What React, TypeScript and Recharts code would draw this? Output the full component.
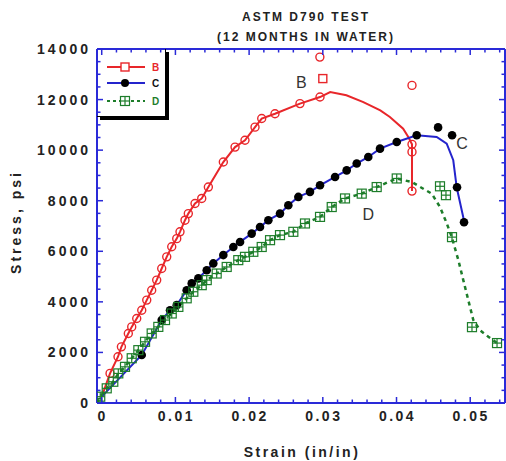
import React from 'react';
import { ComposedChart, Line, Scatter, XAxis, YAxis } from 'recharts';

// ---------- data ----------
const seriesNames = ['B', 'C', 'D'];

// Series B (red) – markers
const bMarkX = [0.00113, 0.00221, 0.00267, 0.00361, 0.00407, 0.00475, 0.00543, 0.00611, 0.00678, 0.00746, 0.00814, 0.00882, 0.0095, 0.01018, 0.01062, 0.0113, 0.01175, 0.01266, 0.01357, 0.01447, 0.0165, 0.01809, 0.01944, 0.0208, 0.02171, 0.02351, 0.0269, 0.02962, 0.0421, 0.0421, 0.0421];
const bMarkY = [1170, 1830, 2220, 2750, 3010, 3340, 3670, 4070, 4460, 4860, 5320, 5780, 6180, 6500, 6770, 7230, 7490, 7890, 8090, 8540, 9530, 10120, 10390, 10910, 11250, 11440, 11840, 12100, 10230, 9930, 8380];
// Series B – curve
const bLineX = [0, 0.00113, 0.00221, 0.00267, 0.00361, 0.00407, 0.00475, 0.00543, 0.00611, 0.00678, 0.00746, 0.00814, 0.00882, 0.0095, 0.01018, 0.01062, 0.0113, 0.01175, 0.01266, 0.01357, 0.01447, 0.0165, 0.01809, 0.01944, 0.0208, 0.02171, 0.02351, 0.0269, 0.02962, 0.031, 0.0332, 0.0355, 0.0378, 0.0391, 0.0409, 0.0416, 0.0421, 0.0421, 0.0421];
const bLineY = [250, 1170, 1830, 2220, 2750, 3010, 3340, 3670, 4070, 4460, 4860, 5320, 5780, 6180, 6500, 6770, 7230, 7490, 7890, 8090, 8540, 9530, 10120, 10390, 10910, 11250, 11440, 11840, 12100, 12300, 12170, 11900, 11570, 11310, 10850, 10520, 10230, 9930, 8380];
// Series B – isolated points
const bRoundX = [0.0296, 0.0421];
const bRoundY = [13680, 12560];
const bSquareX = [0.0300];
const bSquareY = [12830];

// Series C (blue line, black markers)
const cMarkX = [0.00543, 0.00814, 0.00927, 0.01018, 0.01153, 0.01221, 0.01311, 0.01425, 0.01514, 0.0165, 0.01786, 0.01877, 0.02035, 0.02148, 0.02261, 0.02419, 0.02532, 0.02668, 0.02826, 0.02962, 0.03166, 0.03324, 0.0346, 0.03617, 0.03776, 0.04003, 0.04274, 0.04564, 0.04754, 0.04821, 0.04916];
const cMarkY = [1900, 3280, 3670, 3870, 4460, 4730, 4930, 5250, 5520, 5850, 6170, 6370, 6700, 6960, 7230, 7490, 7820, 8150, 8350, 8610, 8940, 9200, 9470, 9730, 10060, 10320, 10590, 10900, 10590, 8530, 7150];
const cLineX = [0, 0.00543, 0.00814, 0.00927, 0.01018, 0.01153, 0.01221, 0.01311, 0.01425, 0.01514, 0.0165, 0.01786, 0.01877, 0.02035, 0.02148, 0.02261, 0.02419, 0.02532, 0.02668, 0.02826, 0.02962, 0.03166, 0.03324, 0.0346, 0.03617, 0.03776, 0.04003, 0.04274, 0.04545, 0.04681, 0.0477, 0.04817, 0.0492];
const cLineY = [250, 1900, 3280, 3670, 3870, 4460, 4730, 4930, 5250, 5520, 5850, 6170, 6370, 6700, 6960, 7230, 7490, 7820, 8150, 8350, 8610, 8940, 9200, 9470, 9730, 10060, 10320, 10590, 10520, 10260, 9600, 8520, 7160];

// Series D (green dashed, boxed-cross markers)
const dMarkX = [-0.0006, -0.0002, 0.00068, 0.00157, 0.00225, 0.00316, 0.00407, 0.00497, 0.00588, 0.00678, 0.00768, 0.00859, 0.0095, 0.0104, 0.01153, 0.01243, 0.01357, 0.01425, 0.0156, 0.01696, 0.01853, 0.01944, 0.02057, 0.02171, 0.02284, 0.02419, 0.026, 0.02758, 0.02962, 0.03121, 0.03301, 0.03528, 0.03731, 0.04003, 0.0459, 0.04671, 0.04753, 0.05024, 0.05364];
const dMarkY = [0, 250, 580, 840, 1170, 1430, 1770, 2090, 2420, 2750, 3010, 3280, 3540, 3800, 4140, 4400, 4660, 4860, 5120, 5380, 5650, 5780, 5980, 6170, 6440, 6640, 6770, 7100, 7360, 7750, 8090, 8280, 8540, 8880, 8570, 8220, 6560, 3000, 2370];
const dLineX = [-0.0006, -0.0002, 0.00068, 0.00157, 0.00225, 0.00316, 0.00407, 0.00497, 0.00588, 0.00678, 0.00768, 0.00859, 0.0095, 0.0104, 0.01153, 0.01243, 0.01357, 0.01425, 0.0156, 0.01696, 0.01853, 0.01944, 0.02057, 0.02171, 0.02284, 0.02419, 0.026, 0.02758, 0.02962, 0.03121, 0.03301, 0.03528, 0.03731, 0.04003, 0.04206, 0.04478, 0.0459, 0.04681, 0.04749, 0.04839, 0.04906, 0.04974, 0.05042, 0.05133, 0.05246, 0.0536];
const dLineY = [0, 250, 580, 840, 1170, 1430, 1770, 2090, 2420, 2750, 3010, 3280, 3540, 3800, 4140, 4400, 4660, 4860, 5120, 5380, 5650, 5780, 5980, 6170, 6440, 6640, 6770, 7100, 7360, 7750, 8090, 8280, 8540, 8880, 8740, 8280, 7750, 7110, 6570, 5650, 4860, 4070, 3280, 2880, 2620, 2380];

// curve annotations
const noteText = ['B', 'C', 'D'];
const noteX = [0.0271, 0.0489, 0.03617];
const noteY = [12690, 10270, 7490];

// axes
const xMajorTicks = [0, 0.01, 0.02, 0.03, 0.04, 0.05];
const xTickLabels = ['0', '0.01', '0.02', '0.03', '0.04', '0.05'];
const xAllTicks = [0, 0.002, 0.004, 0.006, 0.008, 0.01, 0.012, 0.014, 0.016, 0.018, 0.02, 0.022, 0.024, 0.026, 0.028, 0.03, 0.032, 0.034, 0.036, 0.038, 0.04, 0.042, 0.044, 0.046, 0.048, 0.05, 0.052, 0.054];
const yMajorTicks = [0, 2000, 4000, 6000, 8000, 10000, 12000, 14000];
const yTickLabels = ['0', '2000', '4000', '6000', '8000', '10000', '12000', '14000'];
const yAllTicks = [0, 500, 1000, 1500, 2000, 2500, 3000, 3500, 4000, 4500, 5000, 5500, 6000, 6500, 7000, 7500, 8000, 8500, 9000, 9500, 10000, 10500, 11000, 11500, 12000, 12500, 13000, 13500, 14000];

const titleLines = ['ASTM D790 TEST', '(12 MONTHS IN WATER)'];
const xTitle = 'Strain (in/in)';
const yTitle = 'Stress, psi';

// ---------- helpers ----------
const zip = (xs: number[], ys: number[]) => xs.map((x, i) => ({ x, y: ys[i] }));
const notes = noteX.map((x, i) => ({ x, y: noteY[i], label: noteText[i] }));

const AXIS = '#2a2ad8';
const RED = '#e8262a';
const BLUE = '#2424cc';
const GREEN = '#1d7d2a';
const FONT = '"Liberation Sans", Arial, sans-serif';
const X_DOMAIN = [-0.00064, 0.05472];
const Y_DOMAIN = [0, 14000];

const findIdx = (arr: number[], v: number) => arr.findIndex((t) => Math.abs(t - v) < 1e-9);

const BottomTick = (p: any) => {
  const i = findIdx(xMajorTicks, p.payload.value);
  const major = i >= 0;
  return (
    <g>
      <line x1={p.x} x2={p.x} y1={p.y} y2={p.y - (major ? 6 : 3.5)} stroke={AXIS} strokeWidth={1.5} />
      {major && (
        <text x={p.x + 1} y={p.y + 18} textAnchor="middle" fontFamily={FONT} fontWeight="bold" fontSize={14} letterSpacing={2.5} fill="#222">
          {xTickLabels[i]}
        </text>
      )}
    </g>
  );
};
const TopTick = (p: any) => {
  const major = findIdx(xMajorTicks, p.payload.value) >= 0;
  return <line x1={p.x} x2={p.x} y1={p.y} y2={p.y + (major ? 6 : 3.5)} stroke={AXIS} strokeWidth={1.5} />;
};
const LeftTick = (p: any) => {
  const i = findIdx(yMajorTicks, p.payload.value);
  const major = i >= 0;
  return (
    <g>
      <line x1={p.x} x2={p.x + (major ? 6 : 3.5)} y1={p.y} y2={p.y} stroke={AXIS} strokeWidth={1.5} />
      {major && (
        <text x={p.x - 6} y={p.y + 5} textAnchor="end" fontFamily={FONT} fontWeight="bold" fontSize={14} letterSpacing={3} fill="#222">
          {yTickLabels[i]}
        </text>
      )}
    </g>
  );
};
const RightTick = (p: any) => {
  const major = findIdx(yMajorTicks, p.payload.value) >= 0;
  return <line x1={p.x} x2={p.x - (major ? 6 : 3.5)} y1={p.y} y2={p.y} stroke={AXIS} strokeWidth={1.5} />;
};

const RoundMark = (p: any) => <circle cx={p.cx} cy={p.cy} r={4} fill="none" stroke={RED} strokeWidth={1.4} />;
const SquareMark = (p: any) => <rect x={p.cx - 4} y={p.cy - 4} width={8} height={8} fill="none" stroke={RED} strokeWidth={1.4} />;
const DotMark = (p: any) => <circle cx={p.cx} cy={p.cy} r={4.3} fill="#000" />;
const CrossBox = (p: any) => (
  <g stroke={GREEN} strokeWidth={1.2} fill="none">
    <rect x={p.cx - 4.5} y={p.cy - 4.5} width={9} height={9} />
    <line x1={p.cx - 4.5} x2={p.cx + 4.5} y1={p.cy} y2={p.cy} />
    <line x1={p.cx} x2={p.cx} y1={p.cy - 4.5} y2={p.cy + 4.5} />
  </g>
);
const NoteMark = (p: any) => (
  <text x={p.cx} y={p.cy + 6} textAnchor="middle" fontFamily={FONT} fontSize={16} fill="#333">
    {p.payload.label}
  </text>
);
const NoMark = () => <g />;

const LegendRow = ({ top, color, dash, kind, label }: any) => (
  <div style={{ position: 'absolute', left: 0, top, width: 70, height: 14 }}>
    <svg width={70} height={14} style={{ position: 'absolute', left: 0, top: 0 }}>
      <line x1={10} x2={48} y1={7} y2={7} stroke={color} strokeWidth={2} strokeDasharray={dash} />
      {kind === 'sq' && <rect x={24} y={3} width={8} height={8} fill="#fff" stroke={RED} strokeWidth={1.4} />}
      {kind === 'dot' && <circle cx={28} cy={7} r={4} fill="#000" />}
      {kind === 'box' && (
        <g stroke={GREEN} strokeWidth={1.2} fill="#fff">
          <rect x={23.5} y={2.5} width={9} height={9} />
          <line x1={23.5} x2={32.5} y1={7} y2={7} />
          <line x1={28} x2={28} y1={2.5} y2={11.5} />
        </g>
      )}
      <text x={55} y={11} fontFamily={FONT} fontWeight="bold" fontSize={10} fill={kind === 'sq' ? RED : kind === 'dot' ? '#111' : GREEN}>
        {label}
      </text>
    </svg>
  </div>
);

export default function App() {
  return (
    <div style={{ position: 'absolute', left: 0, top: 0, width: 506, height: 461, background: '#fff', overflow: 'hidden' }}>
      <ComposedChart width={506} height={461} margin={{ top: 48, right: 0, bottom: 0, left: 0 }}>
        <XAxis
          xAxisId={0}
          dataKey="x"
          type="number"
          domain={X_DOMAIN}
          allowDataOverflow
          ticks={xAllTicks}
          interval={0}
          height={58}
          tickSize={0}
          tickMargin={0}
          tickLine={false}
          axisLine={{ stroke: AXIS, strokeWidth: 2 }}
          tick={BottomTick}
        />
        <XAxis
          xAxisId="top"
          orientation="top"
          dataKey="x"
          type="number"
          domain={X_DOMAIN}
          allowDataOverflow
          ticks={xAllTicks}
          interval={0}
          height={1}
          tickSize={0}
          tickMargin={0}
          tickLine={false}
          axisLine={{ stroke: AXIS, strokeWidth: 2 }}
          tick={TopTick}
        />
        <YAxis
          yAxisId={0}
          dataKey="y"
          type="number"
          domain={Y_DOMAIN}
          allowDataOverflow
          ticks={yAllTicks}
          interval={0}
          width={97}
          tickSize={0}
          tickMargin={0}
          tickLine={false}
          axisLine={{ stroke: AXIS, strokeWidth: 2 }}
          tick={LeftTick}
        />
        <YAxis
          yAxisId="right"
          orientation="right"
          dataKey="y"
          type="number"
          domain={Y_DOMAIN}
          allowDataOverflow
          ticks={yAllTicks}
          interval={0}
          width={1}
          tickSize={0}
          tickMargin={0}
          tickLine={false}
          axisLine={{ stroke: AXIS, strokeWidth: 2 }}
          tick={RightTick}
        />
        {/* invisible series bound to the frame axes so they get drawn */}
        <Scatter xAxisId="top" yAxisId="right" data={zip(noteX, noteY)} shape={NoMark} legendType="none" isAnimationActive={false} />
        <Line name={seriesNames[0]} data={zip(bLineX, bLineY)} dataKey="y" type="linear" stroke={RED} strokeWidth={2} dot={false} isAnimationActive={false} />
        <Line name={seriesNames[1]} data={zip(cLineX, cLineY)} dataKey="y" type="linear" stroke={BLUE} strokeWidth={2} dot={false} isAnimationActive={false} />
        <Line name={seriesNames[2]} data={zip(dLineX, dLineY)} dataKey="y" type="linear" stroke={GREEN} strokeWidth={2.5} strokeDasharray="4 4" dot={false} isAnimationActive={false} />
        <Scatter data={zip(bMarkX, bMarkY)} shape={RoundMark} isAnimationActive={false} />
        <Scatter data={zip(bRoundX, bRoundY)} shape={RoundMark} isAnimationActive={false} />
        <Scatter data={zip(bSquareX, bSquareY)} shape={SquareMark} isAnimationActive={false} />
        <Scatter data={zip(cMarkX, cMarkY)} shape={DotMark} isAnimationActive={false} />
        <Scatter data={zip(dMarkX, dMarkY)} shape={CrossBox} isAnimationActive={false} />
        <Scatter data={notes} shape={NoteMark} isAnimationActive={false} />
      </ComposedChart>

      {/* title */}
      <div style={{ position: 'absolute', left: 0, width: 612, top: 7, textAlign: 'center', fontFamily: FONT, fontWeight: 'bold', fontSize: 12, letterSpacing: 2, color: '#222', lineHeight: '20px' }}>
        <div>{titleLines[0]}</div>
        <div>{titleLines[1]}</div>
      </div>
      {/* x title */}
      <div style={{ position: 'absolute', left: 0, width: 604, top: 443, textAlign: 'center', fontFamily: FONT, fontWeight: 'bold', fontSize: 14, letterSpacing: 2.5, color: '#222', lineHeight: '18px' }}>
        {xTitle}
      </div>
      {/* y title */}
      <div style={{ position: 'absolute', left: 16, top: 222, width: 0, height: 0 }}>
        <div style={{ position: 'absolute', left: -80, top: -9, width: 160, textAlign: 'center', transform: 'rotate(-90deg)', fontFamily: FONT, fontWeight: 'bold', fontSize: 14, letterSpacing: 3, color: '#222', lineHeight: '18px' }}>
          {yTitle}
        </div>
      </div>
      {/* legend */}
      <div style={{ position: 'absolute', left: 97, top: 49, width: 68, height: 67, borderRight: '1px solid #000', borderBottom: '1px solid #000', boxShadow: '3px 3px 0 #000' }}>
        <LegendRow top={11} color={RED} kind="sq" label={seriesNames[0]} />
        <LegendRow top={27} color={BLUE} kind="dot" label={seriesNames[1]} />
        <LegendRow top={45} color={GREEN} kind="box" dash="3 3" label={seriesNames[2]} />
      </div>
    </div>
  );
}
